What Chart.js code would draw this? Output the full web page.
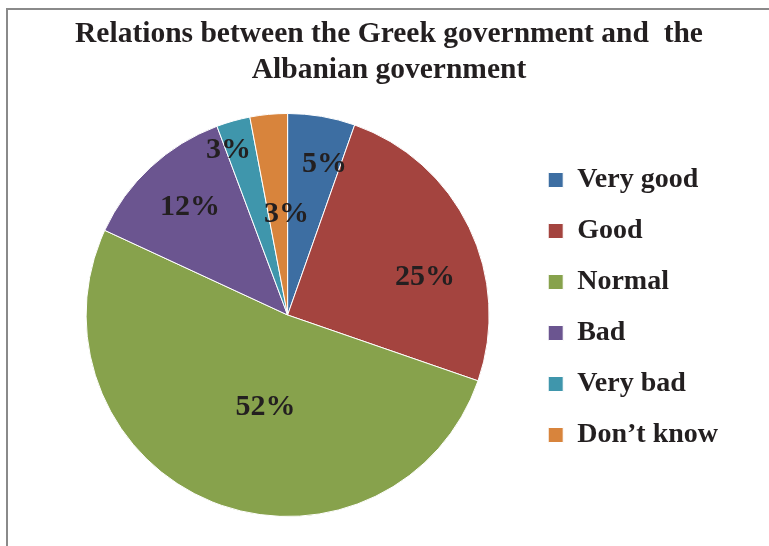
<!DOCTYPE html>
<html>
<head>
<meta charset="utf-8">
<script src="https://cdn.jsdelivr.net/npm/chart.js@4"></script>
<style>
  html, body { margin: 0; padding: 0; background: #fff; }
  #wrap { width: 769px; height: 546px; position: relative; }
</style>
</head>
<body>
<div id="wrap"><canvas id="pieChart" width="769" height="546"></canvas></div>
<script>
const categories = ['Very good', 'Good', 'Normal', 'Bad', 'Very bad', 'Don\u2019t know'];
const shares = [5.4, 24.9, 51.6, 12.4, 2.7, 3.0];
const titleLines = ['Relations between the Greek government and  the', 'Albanian government'];

const sliceColors = ['#3d6ea2', '#a4443f', '#87a24c', '#6b5590', '#3f96ac', '#d8843c'];
// label placement per slice: fraction of radius, angle tweak (deg)
const labelRadius = [0.78, 0.71, 0.46, 0.73, 0.88, 0.51];
const labelTurn = [3.9, 9.5, -8.2, 1.3, -3.8, 4.8];

const serif = "'Liberation Serif', 'Times New Roman', serif";
const ink = '#231f20';

// grey frame round the chart, running off the right and bottom edges
const framePlugin = {
  id: 'frame',
  beforeDraw(chart) {
    const ctx = chart.ctx;
    ctx.save();
    ctx.strokeStyle = '#8a8a8a';
    ctx.lineWidth = 2;
    ctx.strokeRect(7, 9, chart.width + 20, chart.height + 20);
    ctx.restore();
  }
};

// percentage labels drawn on each slice
const pctLabels = {
  id: 'pctLabels',
  afterDatasetsDraw(chart) {
    const ctx = chart.ctx;
    const meta = chart.getDatasetMeta(0);
    ctx.save();
    ctx.font = 'bold 30px ' + serif;
    ctx.fillStyle = ink;
    ctx.textAlign = 'center';
    ctx.textBaseline = 'middle';
    meta.data.forEach((arc, i) => {
      const p = arc.getProps(['x', 'y', 'startAngle', 'endAngle', 'outerRadius'], true);
      const a = (p.startAngle + p.endAngle) / 2 + labelTurn[i] * Math.PI / 180;
      const r = p.outerRadius * labelRadius[i];
      ctx.fillText(Math.round(shares[i]) + '%', p.x + Math.cos(a) * r, p.y + Math.sin(a) * r + 2);
    });
    ctx.restore();
  }
};

// move legend column down to sit beside the pie like the original
const legendShift = {
  id: 'legendShift',
  afterLayout(chart) {
    chart.legend.top += 49;
    chart.legend.bottom += 49;
  }
};

new Chart(document.getElementById('pieChart'), {
  type: 'pie',
  data: {
    labels: categories,
    datasets: [{
      data: shares,
      backgroundColor: sliceColors,
      borderColor: '#ffffff',
      borderWidth: 1
    }]
  },
  options: {
    responsive: false,
    animation: false,
    layout: { padding: { top: 0, bottom: 29, left: 50, right: 41 } },
    plugins: {
      title: {
        display: true,
        text: titleLines,
        color: ink,
        font: { family: serif, size: 29.5, weight: 'bold', lineHeight: 1.22 },
        padding: { top: 16, bottom: 25 }
      },
      legend: {
        position: 'right',
        labels: {
          color: ink,
          font: { family: serif, size: 28, weight: 'bold' },
          boxWidth: 15,
          boxHeight: 15,
          padding: 23
        }
      },
      tooltip: { enabled: false }
    }
  },
  plugins: [framePlugin, pctLabels, legendShift]
});
</script>
</body>
</html>
